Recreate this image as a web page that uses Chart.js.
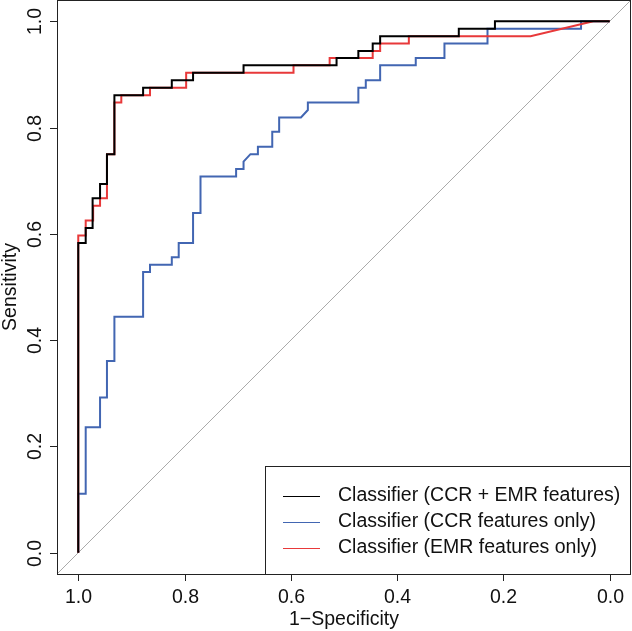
<!DOCTYPE html>
<html>
<head>
<meta charset="utf-8">
<script src="https://cdn.jsdelivr.net/npm/chart.js@4.4.1/dist/chart.umd.min.js"></script>
<style>
  html, body { margin: 0; padding: 0; background: #fff; }
  canvas { display: block; }
</style>
</head>
<body>
<canvas id="roc" width="632" height="631"></canvas>
<script>
// --- axis setup ---
const axisMin = -0.04;
const axisMax = 1.04;
const xTicks = [1.0, 0.8, 0.6, 0.4, 0.2, 0.0];
const yTicks = [0.0, 0.2, 0.4, 0.6, 0.8, 1.0];
const xTitle = '1\u2212Specificity';
const yTitle = 'Sensitivity';

// --- curves (specificity, sensitivity) ---
const bothSpec = [1, 1, 0.986, 0.986, 0.973, 0.973, 0.959, 0.959, 0.946, 0.946, 0.932, 0.932, 0.878, 0.878,
  0.824, 0.824, 0.784, 0.784, 0.689, 0.689, 0.514, 0.514, 0.473, 0.473, 0.446, 0.446, 0.432, 0.432,
  0.284, 0.284, 0.216, 0.216, 0];
const bothSens = [0, 0.583, 0.583, 0.611, 0.611, 0.667, 0.667, 0.694, 0.694, 0.75, 0.75, 0.861, 0.861, 0.875,
  0.875, 0.889, 0.889, 0.903, 0.903, 0.917, 0.917, 0.931, 0.931, 0.944, 0.944, 0.958, 0.958, 0.972,
  0.972, 0.986, 0.986, 1, 1];

const ccrSpec = [1, 1, 0.986, 0.986, 0.959, 0.959, 0.946, 0.946, 0.932, 0.932, 0.878, 0.878, 0.865, 0.865,
  0.824, 0.824, 0.811, 0.811, 0.784, 0.784, 0.770, 0.770, 0.703, 0.703, 0.689, 0.689, 0.676, 0.662,
  0.662, 0.635, 0.635, 0.622, 0.622, 0.581, 0.568, 0.568, 0.473, 0.473, 0.459, 0.459, 0.432, 0.432,
  0.365, 0.365, 0.311, 0.311, 0.230, 0.230, 0.054, 0.054, 0];
const ccrSens = [0, 0.111, 0.111, 0.236, 0.236, 0.292, 0.292, 0.361, 0.361, 0.444, 0.444, 0.528, 0.528, 0.542,
  0.542, 0.556, 0.556, 0.583, 0.583, 0.639, 0.639, 0.708, 0.708, 0.722, 0.722, 0.736, 0.75, 0.75,
  0.764, 0.764, 0.792, 0.792, 0.819, 0.819, 0.833, 0.847, 0.847, 0.875, 0.875, 0.889, 0.889, 0.917,
  0.917, 0.931, 0.931, 0.958, 0.958, 0.986, 0.986, 1, 1];

const emrSpec = [1, 1, 0.986, 0.986, 0.972, 0.972, 0.959, 0.959, 0.946, 0.946, 0.932, 0.932, 0.919, 0.919,
  0.865, 0.865, 0.797, 0.797, 0.595, 0.595, 0.527, 0.527, 0.446, 0.446, 0.432, 0.432, 0.378, 0.378,
  0.149, 0.031, 0];
const emrSens = [0, 0.597, 0.597, 0.625, 0.625, 0.653, 0.653, 0.667, 0.667, 0.75, 0.75, 0.847, 0.847, 0.861,
  0.861, 0.875, 0.875, 0.903, 0.903, 0.917, 0.917, 0.931, 0.931, 0.944, 0.944, 0.958, 0.958, 0.972,
  0.972, 1, 1];

const labels = ['Classifier (CCR + EMR features)', 'Classifier (CCR features only)', 'Classifier (EMR features only)'];
const colors = ['#000000', '#4266b2', '#e8393a'];

const toPoints = (xs, ys) => xs.map((x, i) => ({ x: x, y: ys[i] }));

const FONT = '19.5px "Liberation Sans", Arial, sans-serif';

// box, ticks, titles and legend drawn the R way
const framePlugin = {
  id: 'frame',
  afterDraw(chart) {
    const ctx = chart.ctx;
    const area = chart.chartArea;
    const xs = chart.scales.x;
    const ys = chart.scales.y;
    ctx.save();
    ctx.strokeStyle = '#222';
    ctx.lineWidth = 1;
    ctx.strokeRect(area.left + 0.5, area.top + 0.5, area.right - area.left - 1, area.bottom - area.top);

    ctx.fillStyle = '#111';
    ctx.font = FONT;

    // x ticks
    ctx.textAlign = 'center';
    ctx.textBaseline = 'middle';
    xTicks.forEach(v => {
      const px = Math.round(xs.getPixelForValue(v)) + 0.5;
      ctx.beginPath();
      ctx.moveTo(px, area.bottom);
      ctx.lineTo(px, area.bottom + 7);
      ctx.stroke();
      ctx.fillText(v.toFixed(1), px, 598);
    });
    ctx.fillText(xTitle, (area.left + area.right) / 2, 620);

    // y ticks (rotated labels)
    yTicks.forEach(v => {
      const py = Math.round(ys.getPixelForValue(v)) + 0.5;
      ctx.beginPath();
      ctx.moveTo(area.left, py);
      ctx.lineTo(area.left - 7, py);
      ctx.stroke();
      ctx.save();
      ctx.translate(36, py);
      ctx.rotate(-Math.PI / 2);
      ctx.fillText(v.toFixed(1), 0, 0);
      ctx.restore();
    });
    ctx.save();
    ctx.translate(11, (area.top + area.bottom) / 2);
    ctx.rotate(-Math.PI / 2);
    ctx.fillText(yTitle, 0, 0);
    ctx.restore();

    // legend
    const lx = 265, ly = 466;
    ctx.fillStyle = '#fff';
    ctx.fillRect(lx, ly, area.right - lx, area.bottom - ly);
    ctx.strokeRect(lx + 0.5, ly + 0.5, area.right - lx - 1, area.bottom - ly);
    ctx.textAlign = 'left';
    labels.forEach((t, i) => {
      const y = 496 + i * 26;
      ctx.strokeStyle = colors[i];
      ctx.beginPath();
      ctx.moveTo(283, y + 0.5);
      ctx.lineTo(320, y + 0.5);
      ctx.stroke();
      ctx.fillStyle = '#111';
      ctx.fillText(t, 338, y);
    });
    ctx.restore();
  }
};

new Chart(document.getElementById('roc'), {
  type: 'scatter',
  data: {
    datasets: [
      { label: labels[0], data: toPoints(bothSpec, bothSens), borderColor: colors[0] },
      { label: labels[2], data: toPoints(emrSpec, emrSens), borderColor: colors[2] },
      { label: labels[1], data: toPoints(ccrSpec, ccrSens), borderColor: colors[1] },
      { label: 'chance', data: [{ x: axisMax, y: axisMin }, { x: axisMin, y: axisMax }],
        borderColor: '#aaaaaa', borderWidth: 1 }
    ]
  },
  options: {
    responsive: false,
    animation: false,
    showLine: true,
    layout: { padding: { left: 57, right: 1, top: 0, bottom: 57 } },
    elements: {
      point: { radius: 0, hoverRadius: 0 },
      line: { borderWidth: 2, tension: 0, fill: false }
    },
    scales: {
      x: { type: 'linear', reverse: true, min: axisMin, max: axisMax, display: false },
      y: { type: 'linear', min: axisMin, max: axisMax, display: false }
    },
    plugins: { legend: { display: false }, tooltip: { enabled: false } }
  },
  plugins: [framePlugin]
});
</script>
</body>
</html>
